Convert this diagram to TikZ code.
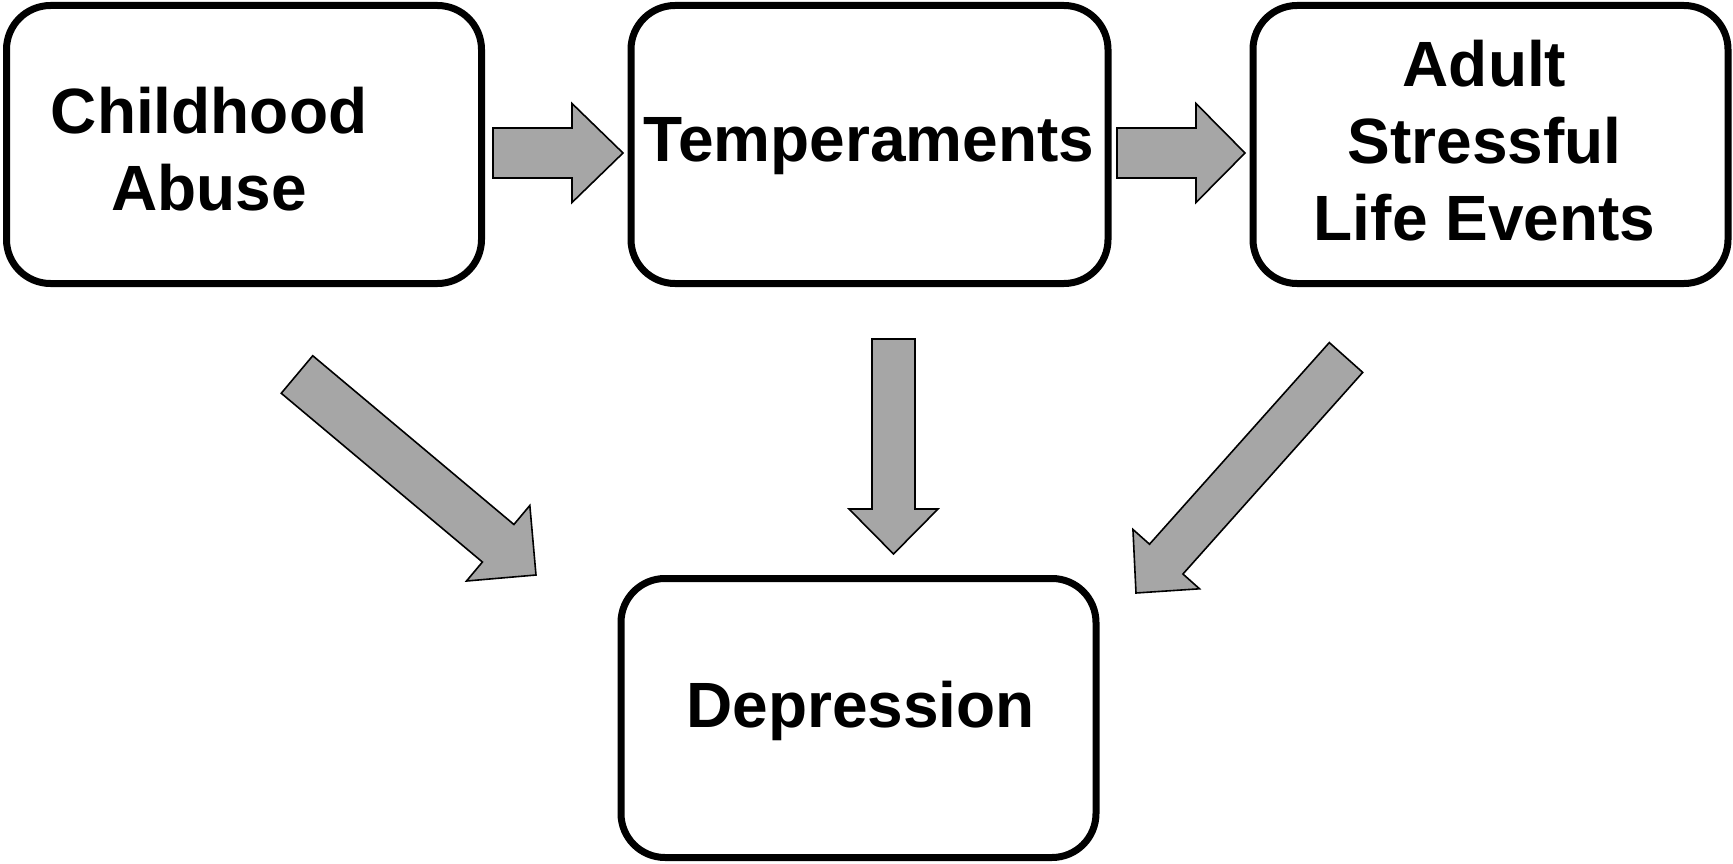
\documentclass[tikz,border=0pt]{standalone}
\usepackage{fontspec}
\setmainfont{Liberation Sans}
\usetikzlibrary{calc}
\definecolor{arrowgray}{HTML}{A6A6A6}
\tikzset{
  box/.style={draw=black, line width=7pt, rounded corners=44pt, fill=white,
              inner sep=0pt, minimum width=475pt, minimum height=278pt},
  lbl/.style={font=\fontsize{64}{77}\selectfont\bfseries, align=center,
              anchor=base, inner sep=0pt},
  blockarrow/.style={draw=black, line width=1.6pt, fill=arrowgray, line join=miter}
}
% #1 tail, #2 tip, #3 shaft half width, #4 head half width, #5 head length
\newcommand{\blkarrow}[5]{%
  \path ($(#2)!#5!(#1)$) coordinate (hb);
  \draw[blockarrow]
    ($(#1)!#3!90:(#2)$) -- ($(hb)!#3!90:(#2)$) -- ($(hb)!#4!90:(#2)$) --
    (#2) --
    ($(hb)!#4!-90:(#2)$) -- ($(hb)!#3!-90:(#2)$) -- ($(#1)!#3!-90:(#2)$) -- cycle;
}
\begin{document}
\begin{tikzpicture}[x=1pt, y=-1pt]
  \useasboundingbox (0,0) rectangle (1733,864);

  % boxes
  \node[box] (ca) at (244,144.5) {};
  \node[box, minimum width=477pt] (tp) at (869.5,144.5) {};
  \node[box] (as) at (1490.5,144.5) {};
  \node[box, minimum height=279pt] (dp) at (858.5,718) {};

  % texts (anchor=base is the baseline of the last line)
  \node[lbl] (catext) at (209,210) {Childhood\\Abuse};
  \node[lbl] (tptext) at (869,162) {Temperaments};
  \node[lbl] (astext) at (1484.5,240) {Adult\\Stressful\\Life Events};
  \node[lbl] (dptext) at (860.5,727) {Depression};

  % arrow end points
  \coordinate (a1t) at (493,153);   \coordinate (a1h) at (623,153);
  \coordinate (a2t) at (1117,153);  \coordinate (a2h) at (1245,153);
  \coordinate (a3t) at (893.5,339); \coordinate (a3h) at (893.5,554);
  \coordinate (a4t) at (297,374.5); \coordinate (a4h) at (536,575);
  \coordinate (a5t) at (1346,357.5);\coordinate (a5h) at (1136,593);

  \blkarrow{a1t}{a1h}{25pt}{49.5pt}{51pt}
  \blkarrow{a2t}{a2h}{25pt}{49.5pt}{49pt}
  \blkarrow{a3t}{a3h}{21.5pt}{44.5pt}{45pt}
  \blkarrow{a4t}{a4h}{24.5pt}{49.3pt}{49.4pt}
  \blkarrow{a5t}{a5h}{22.4pt}{44.6pt}{45.4pt}
\end{tikzpicture}
\end{document}
